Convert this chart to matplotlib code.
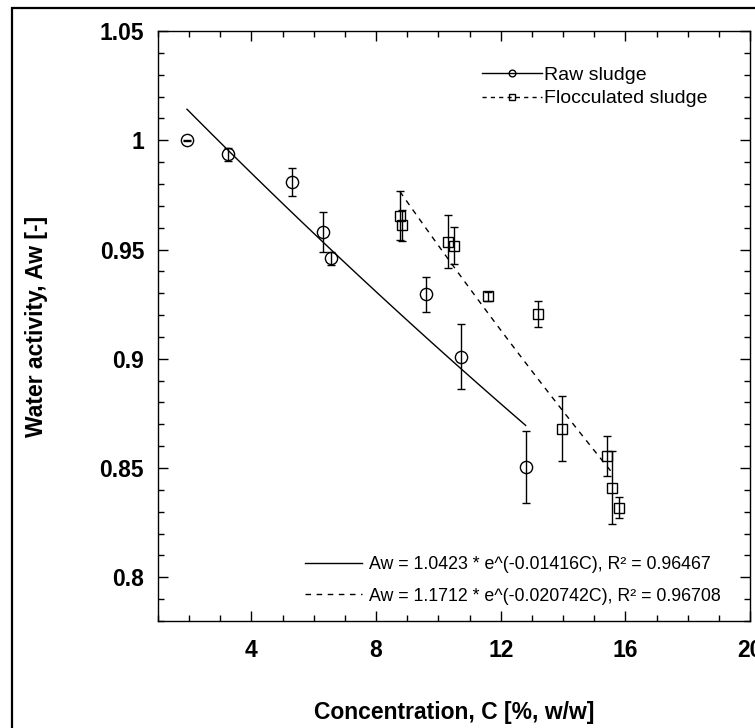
import numpy as np
import matplotlib
matplotlib.use("Agg")
import matplotlib.pyplot as plt
from matplotlib.lines import Line2D
from matplotlib.patches import Rectangle
from matplotlib.ticker import MultipleLocator, FixedLocator, FixedFormatter

plt.rcParams['font.family'] = ['Liberation Sans', 'DejaVu Sans']

# ---- data ----
raw_c = [1.93, 3.24, 5.30, 6.29, 6.55, 9.59, 10.74, 12.80]
raw_aw = [1.000, 0.9936, 0.981, 0.958, 0.946, 0.9295, 0.901, 0.8505]
raw_err = [0.0003, 0.003, 0.0064, 0.009, 0.003, 0.008, 0.015, 0.0165]

floc_c = [8.76, 8.82, 10.30, 10.49, 11.58, 13.18, 13.98, 15.42, 15.58, 15.80]
floc_aw = [0.9655, 0.961, 0.9536, 0.9518, 0.9286, 0.9205, 0.868, 0.8555, 0.841, 0.8318]
floc_err = [0.0113, 0.0073, 0.012, 0.0083, 0.002, 0.006, 0.015, 0.009, 0.0168, 0.0048]

# fitted models Aw = a * exp(b*C) and their plotted C ranges
raw_fit = (1.0423, -0.01416)
raw_fit_range = (1.93, 12.80)
floc_fit = (1.1712, -0.020742)
floc_fit_range = (8.76, 15.58)

eq_labels = ["Aw = 1.0423 * e^(-0.01416C), R\u00b2 = 0.96467",
             "Aw = 1.1712 * e^(-0.020742C), R\u00b2 = 0.96708"]
series_labels = ["Raw sludge", "Flocculated sludge"]

x_ticks = [4, 8, 12, 16, 20]
x_ticklabels = ["4", "8", "12", "16", "20"]
y_ticks = [0.80, 0.85, 0.90, 0.95, 1.00, 1.05]
y_ticklabels = ["0.8", "0.85", "0.9", "0.95", "1", "1.05"]

# ---- figure ----
W, H = 755, 728
fig = plt.figure(figsize=(W / 100, H / 100), dpi=100)
ax = fig.add_axes([158 / W, 1 - 621 / H, (750 - 158) / W, (621 - 31) / H])

# outer frame (cropped at right/bottom)
fig.add_artist(Rectangle((12 / W, -0.05), 2.0, (1 - 8 / H) + 0.05,
                         transform=fig.transFigure, fill=False,
                         lw=1.6, ec='black'))

# fit lines
cr = np.linspace(*raw_fit_range, 100)
cf = np.linspace(*floc_fit_range, 100)
ax.plot(cr, raw_fit[0] * np.exp(raw_fit[1] * cr), color='black', lw=1.0)
ax.plot(cf, floc_fit[0] * np.exp(floc_fit[1] * cf), color='black', lw=1.0,
        linestyle=(0, (4, 4)))

# data with error bars
ax.errorbar(raw_c, raw_aw, yerr=raw_err, fmt='o', ms=8.8, mfc='none',
            mec='black', mew=1.0, ecolor='black', elinewidth=1.0,
            capsize=3, capthick=1.0)
ax.errorbar(floc_c, floc_aw, yerr=floc_err, fmt='s', ms=7.8, mfc='none',
            mec='black', mew=1.0, ecolor='black', elinewidth=1.0,
            capsize=3, capthick=1.0)

ax.set_xlim(1, 20)
ax.set_ylim(0.78, 1.05)

ax.xaxis.set_major_locator(FixedLocator(x_ticks))
ax.xaxis.set_major_formatter(FixedFormatter(x_ticklabels))
ax.xaxis.set_minor_locator(MultipleLocator(1))
ax.yaxis.set_major_locator(FixedLocator(y_ticks))
ax.yaxis.set_major_formatter(FixedFormatter(y_ticklabels))
ax.yaxis.set_minor_locator(MultipleLocator(0.01))

ax.tick_params(which='both', direction='in', top=True, right=True,
               width=1.0, colors='black')
ax.tick_params(which='major', length=7.2)
ax.tick_params(which='minor', length=4)
ax.tick_params(axis='x', which='major', pad=13)
ax.tick_params(axis='y', which='major', pad=10)
for lab in ax.get_xticklabels() + ax.get_yticklabels():
    lab.set_fontweight('bold')
    lab.set_fontsize(16.5)
for sp in ax.spines.values():
    sp.set_linewidth(1.0)

ax.set_xlabel("Concentration, C [%, w/w]", fontsize=16.5, fontweight='bold',
              va='center')
ax.xaxis.set_label_coords(0.5, (621 - 712) / 590)
ax.set_ylabel("Water activity, Aw [-]", fontsize=16.5, fontweight='bold',
              va='center')
ax.yaxis.set_label_coords((37 - 158) / 592, 0.5)

# series legend
h1 = Line2D([], [], color='black', lw=1.0, marker='o', ms=8.8, mfc='none',
            mec='black')
h2 = Line2D([], [], color='black', lw=1.0, linestyle=(0, (3, 3)), marker='s',
            ms=7.8, mfc='none', mec='black')
leg1 = ax.legend([h1, h2], series_labels, loc='upper left',
                 bbox_to_anchor=(482 / W, 1 - 66 / H),
                 bbox_transform=fig.transFigure, frameon=False,
                 prop={'size': 14}, handlelength=3.1, handletextpad=0.1,
                 labelspacing=0.32, borderpad=0, borderaxespad=0,
                 markerscale=0.55)
ax.add_artist(leg1)

# equation legend
e1 = Line2D([], [], color='black', lw=1.0)
e2 = Line2D([], [], color='black', lw=1.0, linestyle=(0, (4, 4)))
ax.legend([e1, e2], eq_labels, loc='upper left',
          bbox_to_anchor=(305 / W, 1 - 556 / H),
          bbox_transform=fig.transFigure, frameon=False,
          prop={'size': 12.8}, handlelength=3.2, handletextpad=0.4,
          labelspacing=0.82, borderpad=0, borderaxespad=0)

fig.savefig("out.png", dpi=100)
